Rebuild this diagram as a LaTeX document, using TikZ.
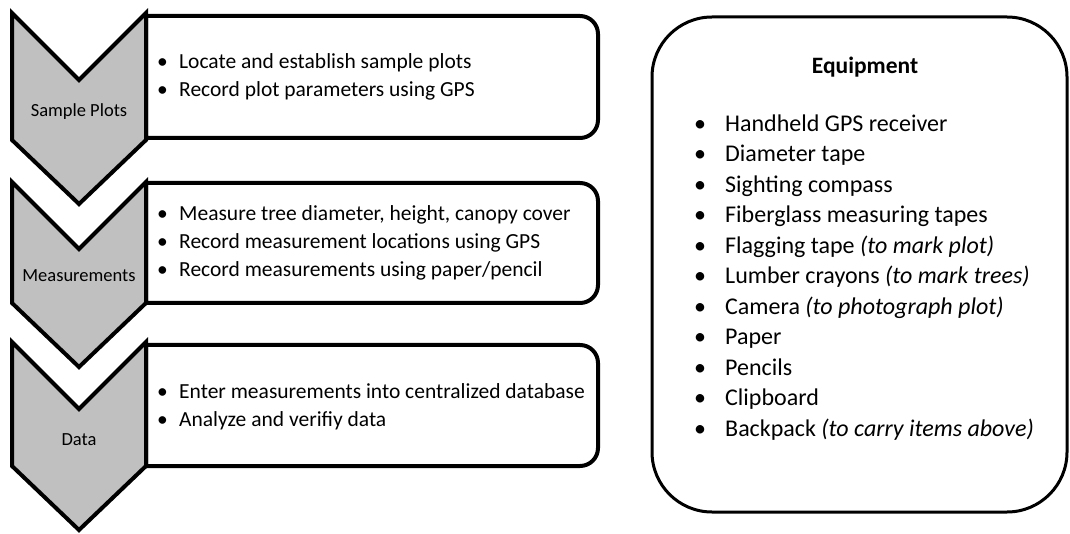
\documentclass[tikz,border=0pt]{standalone}
\usepackage{fontspec}
\setmainfont{Carlito}
\usetikzlibrary{positioning}

\definecolor{chevgray}{HTML}{C0C0C0}
\newcommand{\bul}[2][22pt]{\makebox[#1][l]{\textbullet}#2}

\begin{document}
\begin{tikzpicture}
        [x=1pt, y=1pt, line join=miter,
         stage/.style={draw, fill=chevgray, line width=4pt},
         stepbox/.style={draw, fill=white, line width=4pt},
         stagelabel/.style={inner sep=0pt, font=\fontsize{18.5}{21}\selectfont},
         steptext/.style={anchor=west, align=left, inner sep=0pt, font=\fontsize{21.5}{28}\selectfont},
         equipbox/.style={draw, line width=3pt, rounded corners=60pt}]
        \useasboundingbox (0,0) rectangle (1070,533);

        % boxes behind the chevrons
        \foreach \top/\bot in {517/395, 350/230, 188/67}
        \draw[stepbox] (146,\bot) -- (146,\top) -- (580,\top)
            arc[start angle=90, end angle=0, radius=18] -- (598,\bot+18)
            arc[start angle=0, end angle=-90, radius=18] -- cycle;

        % chevrons
        \foreach \top/\bot in {520/393, 351/230, 191/67}
        \draw[stage] (12,\top) -- (79,\top-67) -- (146,\top) -- (146,\bot)
            -- (79,\bot-64) -- (12,\bot) -- cycle;

        \node[stagelabel] (plots) at (79,421) {Sample Plots};
        \node[stagelabel] (meas)  at (79,257) {Measurements};
        \node[stagelabel] (data)  at (79,93)  {Data};

        \node[steptext] (plotstext) at (157,456) {\bul{Locate and establish sample plots}\\
            \bul{Record plot parameters using GPS}};
        \node[steptext] (meastext) at (157,290) {\bul{Measure tree diameter, height, canopy cover}\\
            \bul{Record measurement locations using GPS}\\
            \bul{Record measurements using paper/pencil}};
        \node[steptext] (datatext) at (157,126.5) {\bul{Enter measurements into centralized database}\\
            \bul{Analyze and verifiy data}};

        % equipment list
        \draw[equipbox] (652,516) rectangle (1067,21);
        \node[inner sep=0pt, font=\bfseries\fontsize{23.5}{26}\selectfont] (equip) at (865,466) {Equipment};
        \node[anchor=west, align=left, inner sep=0pt, font=\fontsize{24}{30.5}\selectfont] (equiplist) at (694,255.5)
            {\bul[31pt]{Handheld GPS receiver}\\
             \bul[31pt]{Diameter tape}\\
             \bul[31pt]{Sighting compass}\\
             \bul[31pt]{Fiberglass measuring tapes}\\
             \bul[31pt]{Flagging tape \textit{(to mark plot)}}\\
             \bul[31pt]{Lumber crayons \textit{(to mark trees)}}\\
             \bul[31pt]{Camera \textit{(to photograph plot)}}\\
             \bul[31pt]{Paper}\\
             \bul[31pt]{Pencils}\\
             \bul[31pt]{Clipboard}\\
             \bul[31pt]{Backpack \textit{(to carry items above)}}};
\end{tikzpicture}
\end{document}
